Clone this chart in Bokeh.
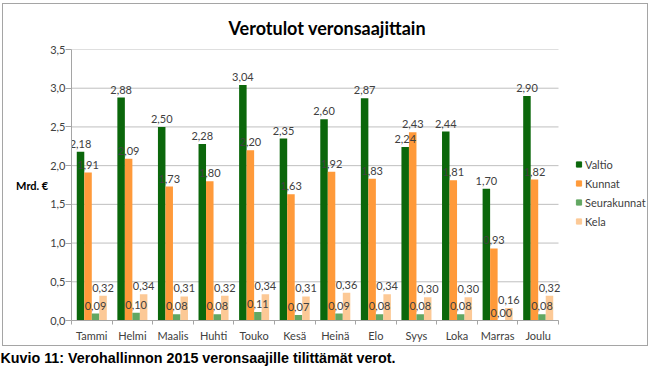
from bokeh.plotting import figure
from bokeh.models import (FixedTicker, Legend, LegendItem, Title,
                          Range1d, CustomJSTickFormatter, ColumnDataSource)
from bokeh.core.properties import value
from bokeh.embed import file_html
from bokeh.resources import INLINE

# ---- data ----
months = ["Tammi", "Helmi", "Maalis", "Huhti", "Touko", "Kesä",
          "Heinä", "Elo", "Syys", "Loka", "Marras", "Joulu"]
valtio = [2.18, 2.88, 2.50, 2.28, 3.04, 2.35, 2.60, 2.87, 2.24, 2.44, 1.70, 2.90]
kunnat = [1.91, 2.09, 1.73, 1.80, 2.20, 1.63, 1.92, 1.83, 2.43, 1.81, 0.93, 1.82]
seurakunnat = [0.09, 0.10, 0.08, 0.08, 0.11, 0.07, 0.09, 0.08, 0.08, 0.08, 0.00, 0.08]
kela = [0.32, 0.34, 0.31, 0.32, 0.34, 0.31, 0.36, 0.34, 0.30, 0.30, 0.16, 0.32]
series_names = ["Valtio", "Kunnat", "Seurakunnat", "Kela"]
series_values = [valtio, kunnat, seurakunnat, kela]
series_colors = ["#0B670B", "#FF9A3A", "#62A762", "#FCC996"]
y_ticks = [0.0, 0.5, 1.0, 1.5, 2.0, 2.5, 3.0, 3.5]

title_text = "Verotulot veronsaajittain"
y_label_text = "Mrd. €"
caption_text = "Kuvio 11: Verohallinnon 2015 veronsaajille tilittämät verot."

FONT = "Lato"
W, H = 650, 369
NCAT = len(months)
LEFT = 71
CAT_PX = 487 / NCAT                 # pixel width of one month group
X_END = (W - LEFT) / CAT_PX         # extra room on the right of the months holds the legend
GRID = "#BFBFBF"
BORDER = "#A5A5A5"

g = f"linear-gradient({BORDER},{BORDER})"
chart_border = ", ".join([
    f"{g} 2px 3px / 646px 1px no-repeat",
    f"{g} 2px 345px / 646px 1px no-repeat",
    f"{g} 2px 3px / 1px 343px no-repeat",
    f"{g} 647px 3px / 1px 343px no-repeat",
    "#ffffff",
])

p = figure(width=W, height=H, x_range=Range1d(0, X_END), y_range=Range1d(0, 3.5),
           output_backend="svg", toolbar_location=None,
           min_border_left=LEFT, min_border_right=0, min_border_top=49, min_border_bottom=47,
           styles={"background": chart_border})
p.outline_line_color = None
p.border_fill_color = None
p.background_fill_color = None

# horizontal gridlines over the month area only
p.segment(x0=[0] * len(y_ticks), x1=[NCAT] * len(y_ticks), y0=y_ticks, y1=y_ticks,
          line_color=GRID, line_width=1)

bar_w = 0.185
n = len(series_names)
legend_items = []
for k, (name, vals, col) in enumerate(zip(series_names, series_values, series_colors)):
    off = (k - (n - 1) / 2) * bar_w
    xs = [i + 0.5 + off for i in range(NCAT)]
    src = ColumnDataSource(dict(x=xs, top=vals))
    p.vbar(x="x", top="top", width=bar_w, source=src, fill_color=col, line_color=None)
    mk = p.scatter(x="x", y="top", source=src, marker="square", size=0,
                   fill_color=col, line_color=col)
    legend_items.append(LegendItem(label=name, renderers=[mk]))

for k, (name, vals) in enumerate(zip(series_names, series_values)):
    off = (k - (n - 1) / 2) * bar_w
    xs = [i + 0.5 + off for i in range(NCAT)]
    labels = [f"{v:.2f}".replace(".", ",") for v in vals]
    src = ColumnDataSource(dict(x=xs, y=vals, t=labels))
    p.text(x="x", y="y", text="t", source=src, text_align="center", text_baseline="bottom",
           y_offset=-4, text_font=value(FONT), text_font_size="11px", text_color="#404040")

# axes
p.xaxis.ticker = FixedTicker(ticks=[i + 0.5 for i in range(NCAT)],
                             minor_ticks=list(range(NCAT + 1)))
p.xaxis.formatter = CustomJSTickFormatter(args=dict(labels=months),
                                          code="return labels[Math.floor(tick)] || '';")
p.xaxis.bounds = (0, NCAT)
p.xaxis.major_tick_line_color = None
p.xaxis.minor_tick_line_color = BORDER
p.xaxis.minor_tick_out = 4
p.xaxis.minor_tick_in = 0
p.xaxis.axis_line_color = BORDER
p.xaxis.major_label_text_font = FONT
p.xaxis.major_label_text_font_size = "11px"
p.xaxis.major_label_text_color = "#404040"
p.xaxis.major_label_standoff = 2

p.yaxis.ticker = FixedTicker(ticks=y_ticks)
p.yaxis.formatter = CustomJSTickFormatter(code="return tick.toFixed(1).replace('.', ',');")
p.yaxis.axis_line_color = BORDER
p.yaxis.major_tick_line_color = BORDER
p.yaxis.major_tick_out = 6
p.yaxis.major_tick_in = 0
p.yaxis.minor_tick_line_color = None
p.yaxis.major_label_text_font = FONT
p.yaxis.major_label_text_font_size = "11px"
p.yaxis.major_label_text_color = "#404040"
p.yaxis.major_label_standoff = 0
p.yaxis.axis_label = y_label_text
p.yaxis.axis_label_text_font = FONT
p.yaxis.axis_label_text_font_style = "bold"
p.yaxis.axis_label_text_font_size = "11px"
p.yaxis.axis_label_text_color = "#000000"
p.yaxis.axis_label_standoff = -1
try:
    p.yaxis.axis_label_orientation = "horizontal"
except Exception:
    pass

p.xgrid.grid_line_color = None
p.ygrid.grid_line_color = None

legend = Legend(items=legend_items, location=(501, 90), border_line_color=None,
                background_fill_alpha=0, padding=0, margin=0, spacing=1,
                glyph_width=13, glyph_height=18, label_height=18, label_standoff=-2,
                label_text_font=FONT, label_text_font_size="11px",
                label_text_color="#404040")
p.add_layout(legend, "center")

# title and caption
p.title.text = title_text
p.title.align = "left"
p.title.offset = 157
p.title.text_font = FONT
p.title.text_font_style = "bold"
p.title.text_font_size = "18px"
p.title.text_color = "#000000"
p.title.standoff = 21
p.add_layout(Title(text=caption_text, text_font="Liberation Sans", text_font_style="bold",
                   text_font_size="14.3px", align="left", offset=-71, standoff=7,
                   text_color="#000000"), "below")

open("out.html", "w").write(file_html(p, INLINE))
